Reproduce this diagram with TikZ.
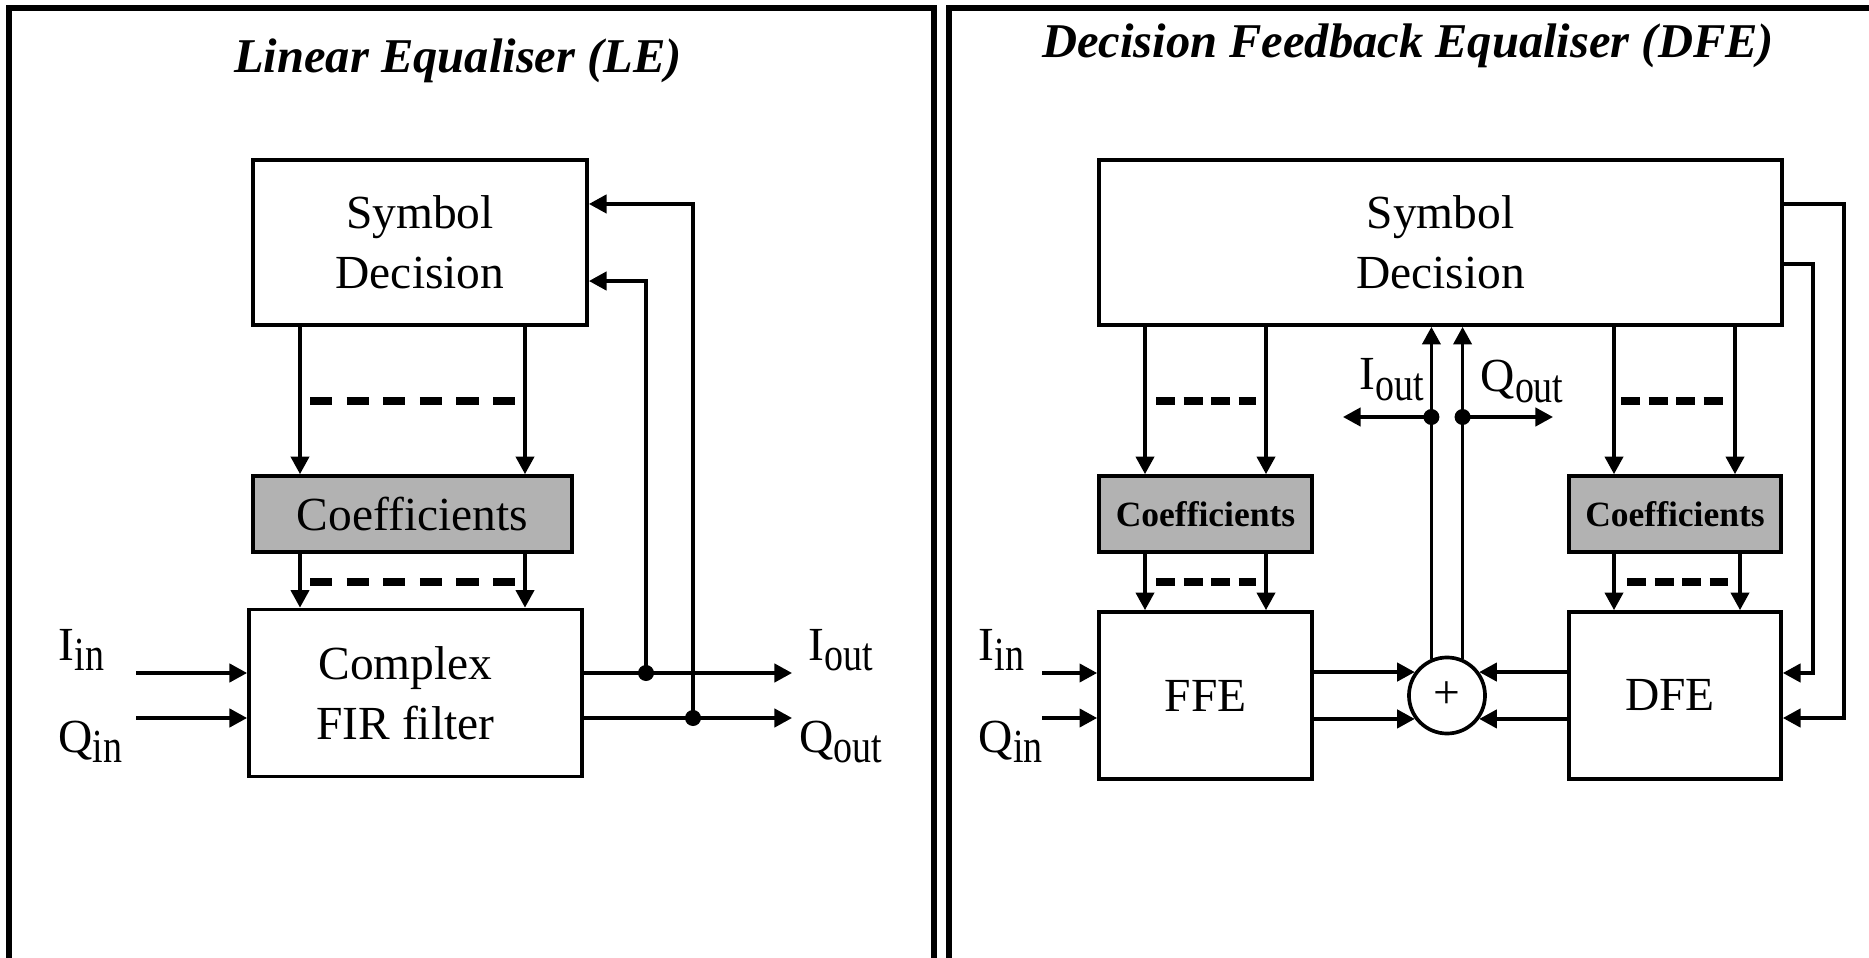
\documentclass[tikz,border=0pt]{standalone}
\usepackage{fontspec}
\setmainfont{Liberation Serif}
\usepackage{graphicx}
\usetikzlibrary{arrows.meta}
\newcommand{\lowsub}[1]{\raisebox{-0.22em}{\scalebox{0.8}[1]{#1}}}
\begin{document}
\begin{tikzpicture}[x=0.01cm, y=-0.01cm,
    every node/.style={font=\fontsize{13.5pt}{17pt}\selectfont},
    box/.style={draw, line width=1.05pt, inner sep=0pt, align=center},
    coef/.style={box, fill=black!30},
    smallcoef/.style={coef, font=\fontsize{10.1pt}{12pt}\selectfont\bfseries},
    lbl/.style={anchor=base west, inner sep=0pt},
    title/.style={anchor=base, inner sep=0pt, font=\fontsize{13.8pt}{17pt}\selectfont\bfseries\itshape},
    dot/.style={circle, fill, inner sep=0pt, minimum size=0.16cm},
    arr/.style={line width=0.95pt, -{Triangle[length=5pt, width=5.2pt]}},
    dashbar/.style={line width=2.4pt, dash pattern=on 0.22cm off 0.146cm},
    dashbarS/.style={line width=2.4pt, dash pattern=on 0.19cm off 0.085cm},
    frame/.style={line width=1.8pt}]
    \useasboundingbox (0,0) rectangle (1869,958);
    \clip (0,0) rectangle (1869,958);

    % Linear Equaliser
    \draw[frame] (9,1100) -- (9,8) -- (934,8) -- (934,1100);
    \node[title] (tLE) at (458,73) {Linear Equaliser (LE)};
    \node[box, minimum width=3.34cm, minimum height=1.65cm] (sdL) at (420,242.5) {Symbol\\Decision};
    \node[coef, minimum width=3.19cm, minimum height=0.76cm] (coL) at (412.5,514) {Coefficients};
    \node[box, minimum width=3.33cm, minimum height=1.67cm] (firL) at (415.5,693) {Complex\hspace*{0.2cm}\\FIR filter\hspace*{0.2cm}};

    \coordinate (cL1) at (300,0);
    \coordinate (cL2) at (525,0);
    \draw[arr] (cL1 |- sdL.south) -- (cL1 |- coL.north);
    \draw[arr] (cL2 |- sdL.south) -- (cL2 |- coL.north);
    \draw[arr] (cL1 |- coL.south) -- (cL1 |- firL.north);
    \draw[arr] (cL2 |- coL.south) -- (cL2 |- firL.north);
    \draw[dashbar] (310,401) -- (515,401);
    \draw[dashbar] (310,582) -- (515,582);

    \coordinate (iiL) at (136,673);
    \coordinate (qiL) at (136,718);
    \draw[arr] (iiL) -- (iiL -| firL.west);
    \draw[arr] (qiL) -- (qiL -| firL.west);
    \node[lbl] (iinL) at (58,660) {I\lowsub{in}};
    \node[lbl] (qinL) at (58,752) {Q\lowsub{in}};

    \coordinate (ioL) at (792,673);
    \coordinate (qoL) at (792,718);
    \draw[arr] (ioL -| firL.east) -- (ioL);
    \draw[arr] (qoL -| firL.east) -- (qoL);
    \node[dot] (dIL) at (646,673) {};
    \node[dot] (dQL) at (693,718) {};
    \draw[arr] (dIL.center) |- ([yshift=-0.385cm]sdL.east);
    \draw[arr] (dQL.center) |- ([yshift=0.385cm]sdL.east);
    \node[lbl] (ioutL) at (808,660) {I\lowsub{out}};
    \node[lbl] (qoutL) at (799,752) {Q\lowsub{out}};

    % Decision Feedback Equaliser
    \draw[frame] (949,1100) -- (949,8) -- (1950,8);
    \node[title] (tDFE) at (1408,58) {Decision Feedback Equaliser (DFE)};
    \node[box, minimum width=6.83cm, minimum height=1.65cm] (sdR) at (1440.5,242.5) {Symbol\\Decision};
    \node[smallcoef, minimum width=2.13cm, minimum height=0.76cm] (coF) at (1205.5,514) {Coefficients};
    \node[smallcoef, minimum width=2.12cm, minimum height=0.76cm] (coD) at (1675,514) {Coefficients};
    \node[box, minimum width=2.13cm, minimum height=1.67cm] (ffe) at (1205.5,695.5) {FFE};
    \node[box, minimum width=2.12cm, minimum height=1.67cm] (dfe) at (1675,695.5) {DFE\hspace*{0.1cm}};
    \node[box, circle, minimum size=0.76cm] (sum) at (1447,695.5) {+};

    \coordinate (cF1) at (1145,0);
    \coordinate (cF2) at (1266,0);
    \coordinate (cD1) at (1614,0);
    \coordinate (cD2) at (1735,0);
    \coordinate (cD3) at (1740,0);
    \draw[arr] (cF1 |- sdR.south) -- (cF1 |- coF.north);
    \draw[arr] (cF2 |- sdR.south) -- (cF2 |- coF.north);
    \draw[arr] (cF1 |- coF.south) -- (cF1 |- ffe.north);
    \draw[arr] (cF2 |- coF.south) -- (cF2 |- ffe.north);
    \draw[arr] (cD1 |- sdR.south) -- (cD1 |- coD.north);
    \draw[arr] (cD2 |- sdR.south) -- (cD2 |- coD.north);
    \draw[arr] (cD1 |- coD.south) -- (cD1 |- dfe.north);
    \draw[arr] (cD3 |- coD.south) -- (cD3 |- dfe.north);
    \draw[dashbarS] (1156,401) -- (1256,401);
    \draw[dashbarS] (1156,582) -- (1256,582);
    \draw[dashbarS] (1621,401) -- (1723,401);
    \draw[dashbarS] (1627,582) -- (1728,582);

    \coordinate (iiR) at (1042,673);
    \coordinate (qiR) at (1042,718);
    \draw[arr] (iiR) -- (iiR -| ffe.west);
    \draw[arr] (qiR) -- (qiR -| ffe.west);
    \node[lbl] (iinR) at (978,660) {I\lowsub{in}};
    \node[lbl] (qinR) at (978,752) {Q\lowsub{in}};

    \draw[arr] (ffe.east |- sum.144) -- (sum.144);
    \draw[arr] (ffe.east |- sum.216) -- (sum.216);
    \draw[arr] (dfe.west |- sum.36) -- (sum.36);
    \draw[arr] (dfe.west |- sum.-36) -- (sum.-36);

    \draw[arr] (sum.113) -- (sum.113 |- sdR.south);
    \draw[arr] (sum.67) -- (sum.67 |- sdR.south);
    \coordinate (tapR) at (1447,417);
    \node[dot] (dIR) at (sum.113 |- tapR) {};
    \node[dot] (dQR) at (sum.67 |- tapR) {};
    \coordinate (ioR) at (1343,417);
    \coordinate (qoR) at (1553,417);
    \draw[arr] (dIR.center) -- (ioR);
    \draw[arr] (dQR.center) -- (qoR);
    \node[lbl] (ioutR) at (1359,390) {I\lowsub{out}};
    \node[lbl] (qoutR) at (1480,392) {Q\lowsub{out}};

    \draw[arr] ([yshift=0.385cm]sdR.east) -- ++(60,0) |- ([yshift=-0.225cm]dfe.east);
    \draw[arr] ([yshift=-0.215cm]sdR.east) -- ++(29,0) |- ([yshift=0.225cm]dfe.east);
\end{tikzpicture}
\end{document}
